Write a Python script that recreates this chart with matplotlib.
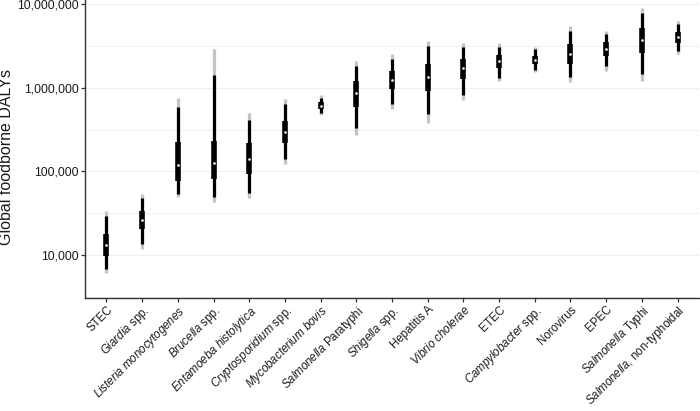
import matplotlib
matplotlib.use('Agg')
import matplotlib.pyplot as plt
import numpy as np
from matplotlib.ticker import FixedLocator, NullFormatter

plt.rcParams['font.family'] = ['Liberation Sans', 'DejaVu Sans']
plt.rcParams['mathtext.fontset'] = 'custom'
plt.rcParams['mathtext.rm'] = 'Liberation Sans'
plt.rcParams['mathtext.it'] = 'Liberation Sans:italic'

categories = [
    'STEC',
    r'$\mathit{Giardia}$ spp.',
    r'$\mathit{Listeria\ monocytogenes}$',
    r'$\mathit{Brucella}$ spp.',
    r'$\mathit{Entamoeba\ histolytica}$',
    r'$\mathit{Cryptosporidium}$ spp.',
    r'$\mathit{Mycobacterium\ bovis}$',
    r'$\mathit{Salmonella}$ Paratyphi',
    r'$\mathit{Shigella}$ spp.',
    'Hepatitis A',
    r'$\mathit{Vibrio\ cholerae}$',
    'ETEC',
    r'$\mathit{Campylobacter}$ spp.',
    'Norovirus',
    'EPEC',
    r'$\mathit{Salmonella}$ Typhi',
    r'$\mathit{Salmonella}$, non-typhoidal',
]

p2_5 = [6040, 11700, 49800, 43400, 47600, 121000, 468000, 272000, 556000,
        381000, 718000, 1201000, 1551000, 1178000, 1595000, 1191000, 2505000]
p5 = [6750, 13400, 53600, 49800, 55600, 139000, 494000, 332000, 633000,
      484000, 824000, 1315000, 1626000, 1330000, 1815000, 1456000, 2742000]
p25 = [9730, 20400, 77300, 81000, 93700, 220000, 551000, 592000, 956000,
       912000, 1280000, 1718000, 1903000, 1903000, 2411000, 2618000, 3448000]
median = [13060, 26200, 118000, 126000, 139000, 298000, 609000, 857000, 1225000,
          1342000, 1704000, 2066000, 2124000, 2505000, 2923000, 3683000, 4036000]
p75 = [17800, 33900, 222000, 232000, 216000, 403000, 674000, 1191000, 1582000,
       1918000, 2201000, 2456000, 2391000, 3325000, 3487000, 5124000, 4667000]
p95 = [29300, 48000, 582000, 1417000, 411000, 633000, 759000, 1831000, 2201000,
       3148000, 3062000, 3090000, 2898000, 4797000, 4416000, 7873000, 5768000]
p97_5 = [33600, 53600, 746000, 2874000, 494000, 726000, 811000, 2083000, 2505000,
         3612000, 3448000, 3448000, 3090000, 5458000, 4797000, 8958000, 6211000]

yticks = [1e4, 1e5, 1e6, 1e7]
ytick_labels = ['10,000', '100,000', '1,000,000', '10,000,000']

fig = plt.figure(figsize=(7.0, 4.11), dpi=100)
ax = fig.add_axes([85 / 700, 1 - 298 / 411, 614 / 700, 298 / 411])

x = np.arange(1, len(categories) + 1)
ax.vlines(x, p2_5, p97_5, colors='#c4c4c4', linewidth=2.3, capstyle='butt', zorder=2)
ax.vlines(x, p5, p95, colors='black', linewidth=2.3, capstyle='butt', zorder=3)
ax.vlines(x, p25, p75, colors='black', linewidth=4.0, capstyle='butt', zorder=4)
ax.scatter(x, median, s=3.5, color='white', zorder=5, linewidths=0)

ax.set_yscale('log')
ax.set_ylim(10 ** (7 - 294 / 83.67), 10 ** (7 + 4 / 83.67))
ax.set_xlim(0.4, len(categories) + 0.6)

ax.yaxis.set_major_locator(FixedLocator(yticks))
ax.set_yticklabels(ytick_labels)
ax.yaxis.set_minor_locator(FixedLocator([10 ** 3.5, 10 ** 4.5, 10 ** 5.5, 10 ** 6.5]))
ax.yaxis.set_minor_formatter(NullFormatter())
ax.tick_params(axis='y', which='minor', length=0)
ax.grid(True, axis='y', which='both', color='#ededed', linewidth=0.6, zorder=0)
ax.set_axisbelow(True)

ax.set_xticks(x)
ax.set_xticklabels(categories, rotation=45, ha='right', rotation_mode='anchor', fontsize=8.3)
ax.tick_params(axis='both', which='major', length=3.0, width=0.9, color='#333333',
               labelcolor='#1a1a1a', pad=1.0)
ax.tick_params(axis='y', labelsize=8.8, pad=1.5)

for s in ['top', 'right']:
    ax.spines[s].set_visible(False)
for s in ['left', 'bottom']:
    ax.spines[s].set_color('#333333')
    ax.spines[s].set_linewidth(1.0)

fig.text(7 / 700, 1 - 157 / 411, 'Global foodborne DALYs', rotation=90,
         ha='center', va='center', fontsize=11.5, color='#1a1a1a')

fig.savefig('out.png', dpi=100)
